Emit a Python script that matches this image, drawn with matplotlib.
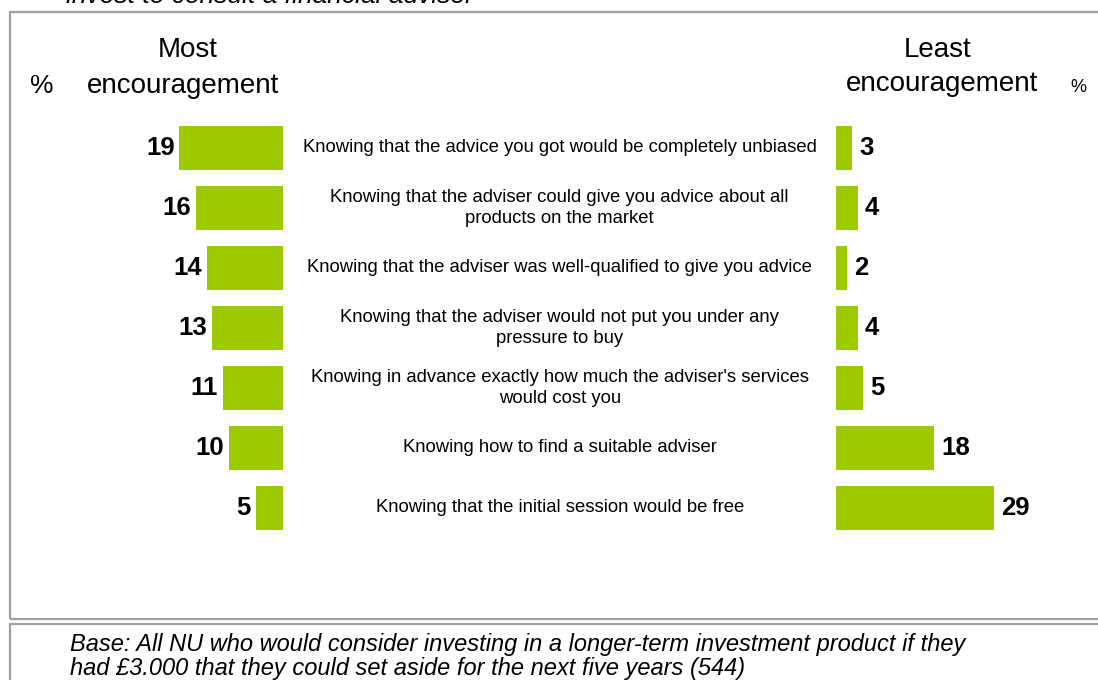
import matplotlib
matplotlib.use("Agg")
import matplotlib.pyplot as plt
from matplotlib.patches import Rectangle

plt.rcParams['font.family'] = ['Liberation Sans', 'DejaVu Sans']

statements = [
    "Knowing that the advice you got would be completely unbiased",
    "Knowing that the adviser could give you advice about all\nproducts on the market",
    "Knowing that the adviser was well-qualified to give you advice",
    "Knowing that the adviser would not put you under any\npressure to buy",
    "Knowing in advance exactly how much the adviser's services\nwould cost you",
    "Knowing how to find a suitable adviser",
    "Knowing that the initial session would be free",
]
most = [19, 16, 14, 13, 11, 10, 5]
least = [3, 4, 2, 4, 5, 18, 29]

W, H = 1098, 680
GREEN = '#9dcb00'
GREY = '#a0a0a0'

fig = plt.figure(figsize=(W / 100, H / 100), dpi=100)


def box(x0, y0, x1, y1):
    # pixel coords, y measured from top
    return [x0 / W, 1 - y1 / H, (x1 - x0) / W, (y1 - y0) / H]


scale = 5.45         # px per percentage point
top, bottom = 118, 538
xmax = 30
ax_l = fig.add_axes(box(283 - xmax * scale, top, 283, bottom))
ax_r = fig.add_axes(box(836, top, 836 + xmax * scale, bottom))

rows = list(range(len(statements)))
ax_l.barh(rows, most, height=0.73, color=GREEN)
ax_r.barh(rows, least, height=0.73, color=GREEN)
for ax in (ax_l, ax_r):
    ax.set_ylim(len(rows) - 0.5, -0.5)
    ax.axis('off')
ax_l.set_xlim(xmax, 0)
ax_r.set_xlim(0, xmax)

for i, v in enumerate(most):
    ax_l.text(v + 0.9, i, str(v), ha='right', va='center',
              fontsize=18.5, fontweight='bold')
for i, v in enumerate(least):
    ax_r.text(v + 1.3, i, str(v), ha='left', va='center',
              fontsize=18.5, fontweight='bold')
for i, s in enumerate(statements):
    ax_r.text(-50.7, i, s, ha='center', va='center', fontsize=13.3,
              linespacing=1.25)


def ftext(x, y, s, **kw):
    fig.text(x / W, 1 - y / H, s, **kw)


ftext(188, 50, "Most", ha='center', va='center', fontsize=20)
ftext(183, 86, "encouragement", ha='center', va='center', fontsize=20)
ftext(42, 86, "%", ha='center', va='center', fontsize=19)
ftext(938, 50, "Least", ha='center', va='center', fontsize=20)
ftext(942, 84, "encouragement", ha='center', va='center', fontsize=20)
ftext(1078, 88, "%", ha='center', va='center', fontsize=13)

ftext(66, -4, "invest to consult a financial adviser", ha='left',
      va='center', fontsize=19, style='italic')
ftext(70, 644, "Base: All NU who would consider investing in a longer-term investment product if they",
      ha='left', va='center', fontsize=17, style='italic')
ftext(70, 669, "had £3.000 that they could set aside for the next five years (544)",
      ha='left', va='center', fontsize=17, style='italic')

# panel frames
for x0, y0, x1, y1 in [(10, 12, 1110, 619), (10, 624, 1110, 700)]:
    fig.add_artist(Rectangle((x0 / W, 1 - y1 / H), (x1 - x0) / W, (y1 - y0) / H,
                             transform=fig.transFigure, fill=False,
                             edgecolor=GREY, linewidth=1.6, clip_on=False))

fig.savefig("out.png", dpi=100)
